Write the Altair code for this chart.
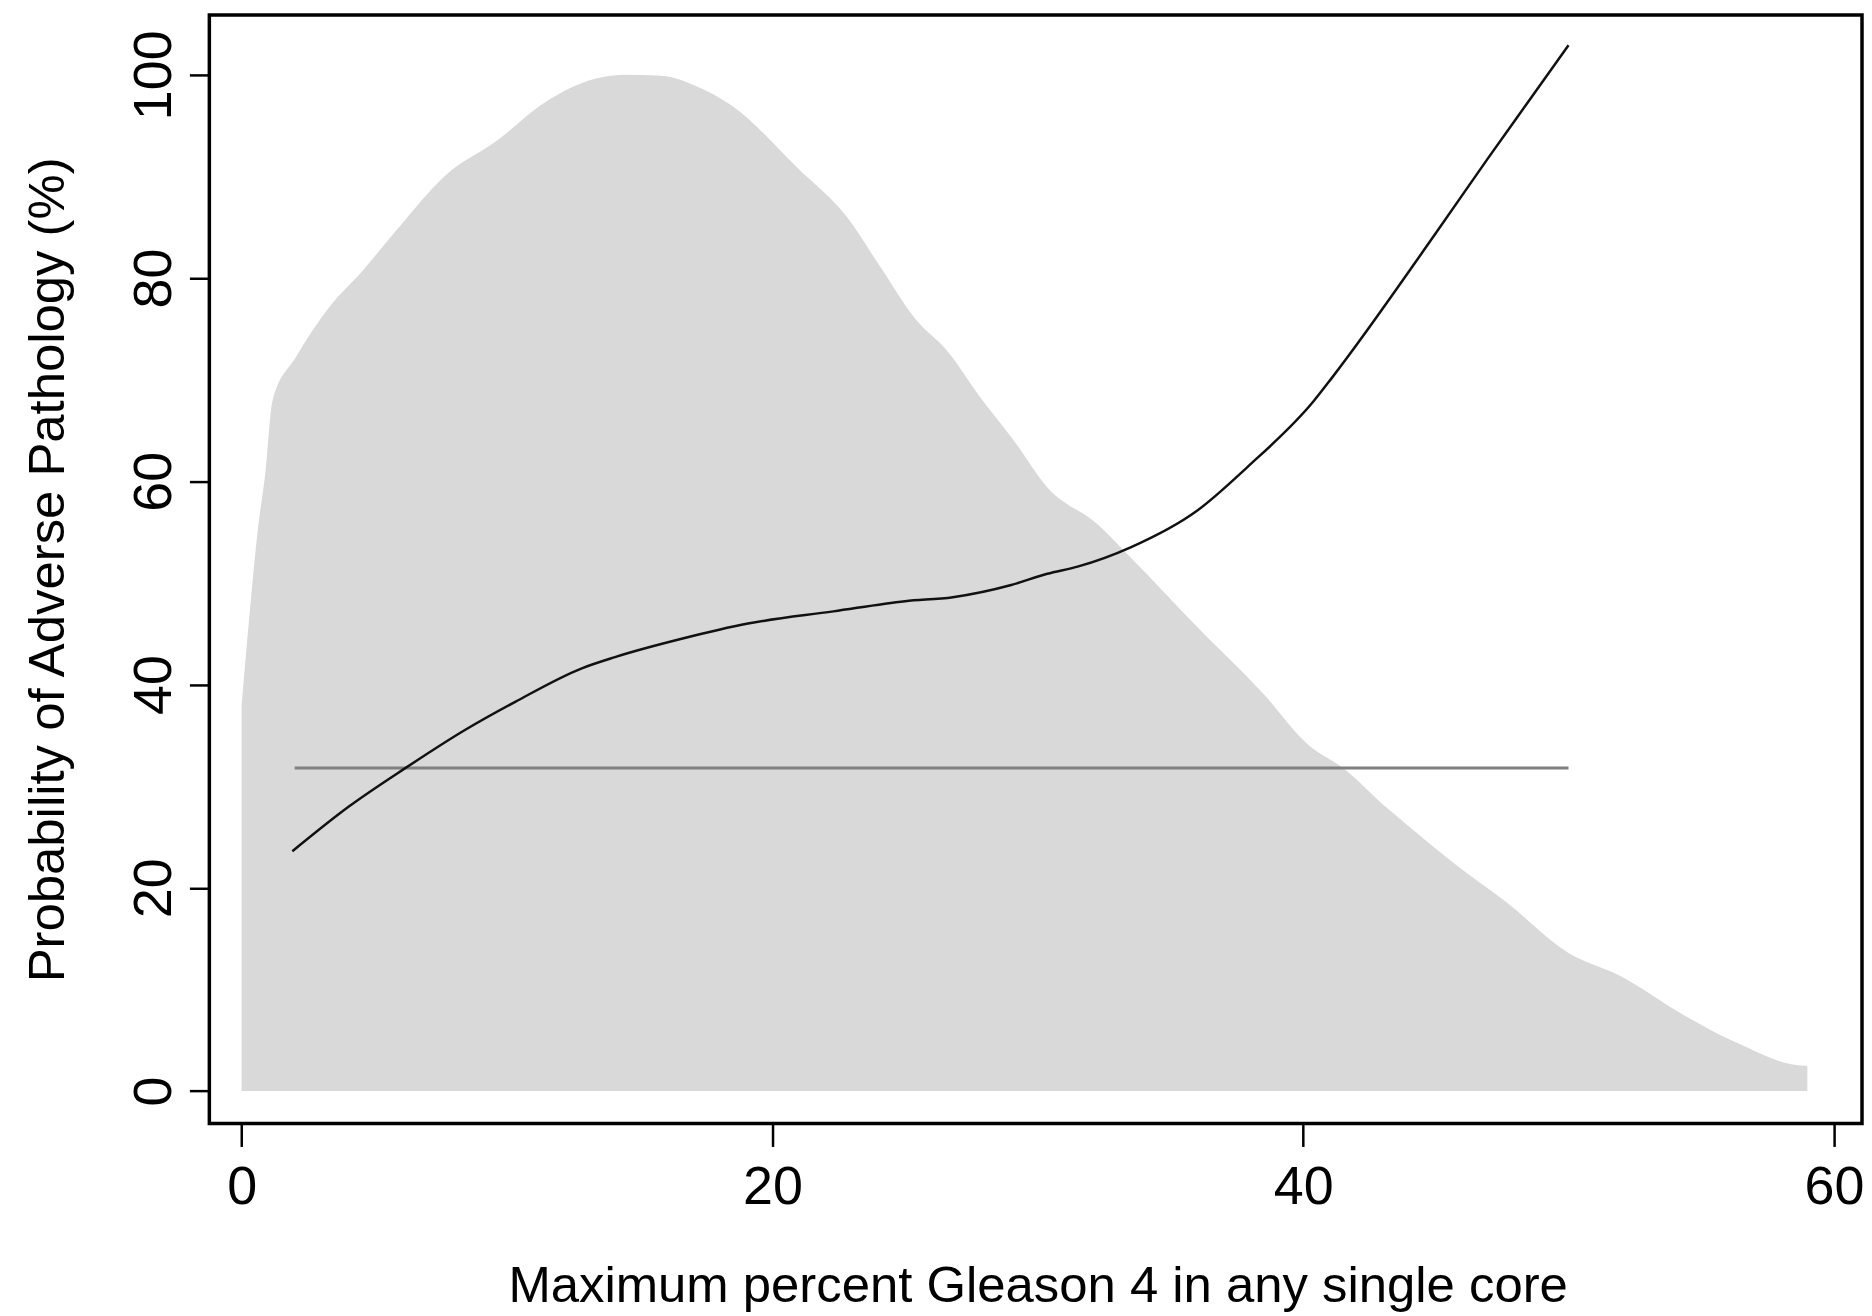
import altair as alt
import pandas as pd

# Density (grey area) outline
dens_x = [0.0, 0.3, 0.6, 0.9, 1.16, 2.04, 3.29, 4.55, 5.80, 7.68, 9.56, 11.44,
          13.32, 14.5, 15.82, 17.2, 18.45, 20.96, 22.84, 24.09, 25.35, 26.6,
          27.85, 29.1, 30.36, 32.24, 33.5, 36.0, 38.5, 40.14, 41.6, 43.1, 44.1,
          45.6, 47.65, 50.0, 51.9, 54.4, 56.3, 58.9, 59.0]
dens_y = [38.0, 47.0, 55.0, 61.0, 67.9, 72.2, 77.1, 80.7, 84.6, 90.1, 93.4, 97.3,
          99.6, 100.0, 99.9, 98.8, 97.0, 90.8, 85.9, 81.0, 76.1, 72.8,
          68.2, 64.0, 59.4, 55.8, 52.5, 45.7, 39.1, 34.2, 31.6, 28.0, 25.8,
          22.6, 18.6, 13.6, 11.4, 7.4, 4.8, 2.5, 2.5]

# Fitted probability curve (black)
fit_x = [1.91, 4.04, 6.18, 8.43, 10.31, 12.82, 14.07, 16.58, 19.08, 22.3, 25.0,
         26.8, 29.0, 30.36, 31.5, 33.5, 36.0, 37.9, 40.4, 41.09, 44.97, 46.97,
         48.47, 50.0]
fit_y = [23.6, 28.0, 31.8, 35.55, 38.3, 41.6, 42.7, 44.5, 46.0, 47.2, 48.2,
         48.6, 49.8, 50.9, 51.6, 53.5, 57.1, 61.4, 67.9, 70.2, 84.3, 91.8,
         97.3, 102.9]

# Reference (overall rate) line
ref_x = [2, 50]
ref_y = [31.8, 31.8]

x_ticks = [0, 20, 40, 60]
y_ticks = [0, 20, 40, 60, 80, 100]

X_DOMAIN = [-1.217, 61.06]
Y_DOMAIN = [-3.19, 105.87]

x_title = "Maximum percent Gleason 4 in any single core"
y_title = "Probability of Adverse Pathology (%)"

dens_df = pd.DataFrame({"x": dens_x, "y": dens_y})
fit_df = pd.DataFrame({"x": fit_x, "y": fit_y})
ref_df = pd.DataFrame({"x": ref_x, "y": ref_y})

FONT = "Liberation Sans"

xs = alt.Scale(domain=X_DOMAIN, nice=False, zero=False)
ys = alt.Scale(domain=Y_DOMAIN, nice=False, zero=False)

x_axis = alt.Axis(
    values=x_ticks, grid=False, domain=False, tickSize=23, tickWidth=2.5,
    tickColor="black", labelFont=FONT, labelFontSize=54, labelColor="black",
    labelAngle=0, labelBaseline="alphabetic", labelAlign="center",
    labelPadding=57, labelFlush=False, labelOverlap=False,
    title=x_title, titleFont=FONT, titleFontSize=51, titleFontWeight="normal",
    titleColor="black", titleBaseline="alphabetic", titleAlign="center",
    titleY=179, titleX=831,
)
y_axis = alt.Axis(
    values=y_ticks, grid=False, domain=False, tickSize=20, tickWidth=2.5,
    tickColor="black", labelFont=FONT, labelFontSize=54, labelColor="black",
    labelAngle=270, labelBaseline="alphabetic", labelAlign="center",
    labelPadding=19, labelFlush=False, labelOverlap=False,
    title=y_title, titleFont=FONT, titleFontSize=51, titleFontWeight="normal",
    titleColor="black", titleBaseline="alphabetic", titleAlign="center",
    titleAngle=270, titleX=-146, titleY=556,
)

area = alt.Chart(dens_df).mark_area(color="#d9d9d9", interpolate="monotone").encode(
    x=alt.X("x:Q", scale=xs, axis=x_axis, title=x_title),
    y=alt.Y("y:Q", scale=ys, axis=y_axis, title=y_title),
)
ref = alt.Chart(ref_df).mark_line(color="#808080", strokeWidth=3).encode(
    x=alt.X("x:Q", scale=xs, axis=x_axis, title=x_title),
    y=alt.Y("y:Q", scale=ys, axis=y_axis, title=y_title),
)
fit = alt.Chart(fit_df).mark_line(color="#111111", strokeWidth=2.5,
                                  interpolate="monotone").encode(
    x=alt.X("x:Q", scale=xs, axis=x_axis, title=x_title),
    y=alt.Y("y:Q", scale=ys, axis=y_axis, title=y_title),
)

chart = alt.layer(area, ref, fit).properties(
    width=1658,
    height=1112,
    padding={"left": 202, "top": 5, "right": 2, "bottom": 198},
    autosize=alt.AutoSizeParams(type="none"),
    background="white",
).configure_view(stroke="black", strokeWidth=3.5)

chart.save("out.html", embed_options={"renderer": "svg", "actions": False})
